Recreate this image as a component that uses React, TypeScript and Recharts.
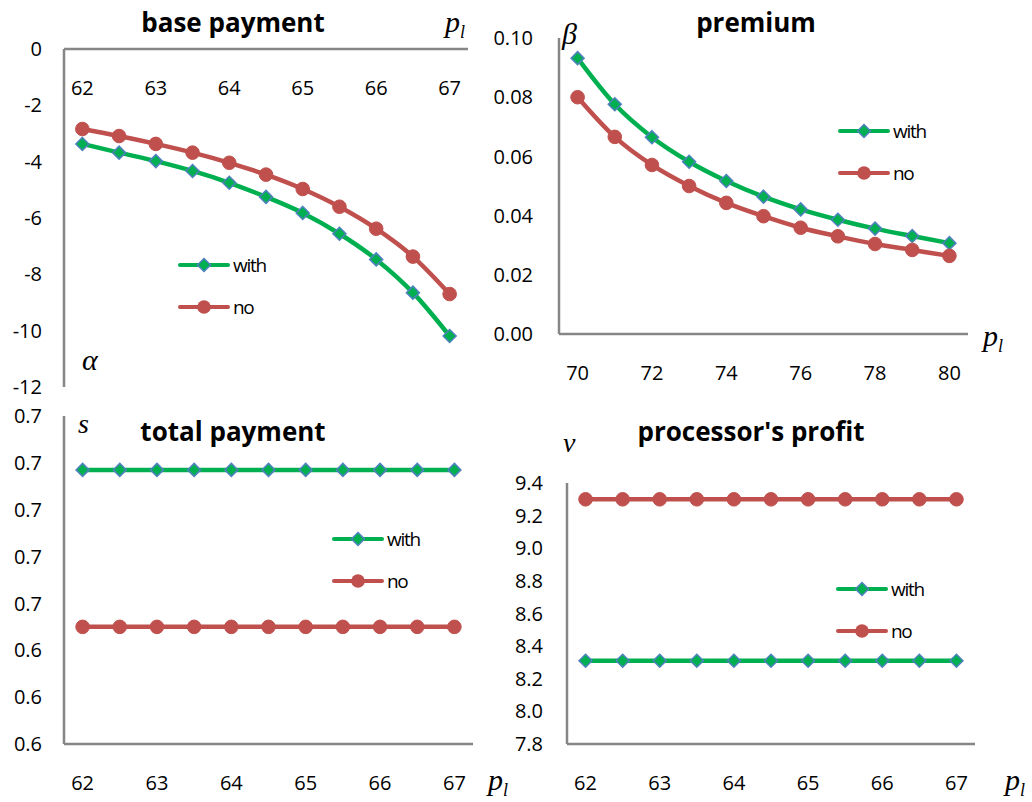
import React from 'react';
import { LineChart, Line, XAxis, YAxis, Legend } from 'recharts';

// x values (p_l)
const plShort = [62, 62.5, 63, 63.5, 64, 64.5, 65, 65.5, 66, 66.5, 67];
const plPremium = [70, 71, 72, 73, 74, 75, 76, 77, 78, 79, 80];

// base payment (alpha)
const baseWith = [-3.37, -3.68, -3.98, -4.33, -4.75, -5.25, -5.82, -6.56, -7.47, -8.65, -10.19];
const baseNo = [-2.84, -3.09, -3.37, -3.68, -4.04, -4.46, -4.97, -5.6, -6.38, -7.37, -8.7];

// premium (beta)
const premWith = [0.0932, 0.0776, 0.0665, 0.0582, 0.0517, 0.0464, 0.0421, 0.0386, 0.0356, 0.0331, 0.0307];
const premNo = [0.08, 0.0666, 0.0571, 0.05, 0.0443, 0.0398, 0.0359, 0.033, 0.0304, 0.0284, 0.0264];

// total payment (s)
const totalWith = [0.6557, 0.6557, 0.6557, 0.6557, 0.6557, 0.6557, 0.6557, 0.6557, 0.6557, 0.6557, 0.6557];
const totalNo = [0.649, 0.649, 0.649, 0.649, 0.649, 0.649, 0.649, 0.649, 0.649, 0.649, 0.649];

// processor's profit (v)
const profitWith = [8.31, 8.31, 8.31, 8.31, 8.31, 8.31, 8.31, 8.31, 8.31, 8.31, 8.31];
const profitNo = [9.3, 9.3, 9.3, 9.3, 9.3, 9.3, 9.3, 9.3, 9.3, 9.3, 9.3];

const baseTicks = [-12, -10, -8, -6, -4, -2, 0];
const premTicks = [0, 0.02, 0.04, 0.06, 0.08, 0.1];
const totalTicks = [0.644, 0.646, 0.648, 0.65, 0.652, 0.654, 0.656, 0.658];
const profitTicks = [7.8, 8.0, 8.2, 8.4, 8.6, 8.8, 9.0, 9.2, 9.4];

const seriesOrder = ['with', 'no'];

const GREEN = '#00B050';
const RED = '#C0504D';
const BLUE = '#4F81BD';
const AXIS = '#868686';
const FONT = '"Open Sans", sans-serif';
const SERIF = '"Liberation Serif", "DejaVu Serif", serif';

const build = (xs: number[], w: number[], n: number[]) =>
  xs.map((pl, i) => ({ pl, with: w[i], no: n[i] }));

const tickStyle = { fill: '#000', fontSize: 20, fontFamily: FONT };
const axisLine = { stroke: AXIS, strokeWidth: 2.5 };

const Diamond = (props: any) => {
  const { cx, cy, index } = props;
  if (cx == null || cy == null) return <g key={index} />;
  const r = 6.5;
  return (
    <path
      key={index}
      d={`M${cx},${cy - r}L${cx + r},${cy}L${cx},${cy + r}L${cx - r},${cy}Z`}
      fill={GREEN}
      stroke={BLUE}
      strokeWidth={1.5}
    />
  );
};

const Dot = (props: any) => {
  const { cx, cy, index } = props;
  if (cx == null || cy == null) return <g key={index} />;
  return <circle key={index} cx={cx} cy={cy} r={6.8} fill={RED} stroke={RED} />;
};

const LegendBox = ({ payload }: any) => {
  const items = [...(payload || [])].sort(
    (a: any, b: any) => seriesOrder.indexOf(a.dataKey) - seriesOrder.indexOf(b.dataKey)
  );
  return (
    <div style={{ fontFamily: FONT }}>
      {items.map((entry: any) => {
        const isWith = entry.dataKey === 'with';
        const color = isWith ? GREEN : RED;
        return (
          <div key={entry.dataKey} style={{ display: 'flex', alignItems: 'center', height: 42 }}>
            <svg width={52} height={20}>
              <line x1={2} y1={10} x2={50} y2={10} stroke={color} strokeWidth={4} strokeLinecap="round" />
              {isWith ? (
                <path d="M26,3.5L32.5,10L26,16.5L19.5,10Z" fill={GREEN} stroke={BLUE} strokeWidth={1.5} />
              ) : (
                <circle cx={26} cy={10} r={6.8} fill={RED} />
              )}
            </svg>
            <span style={{ marginLeft: 3, fontSize: 19, letterSpacing: -1.3, color: '#000' }}>{entry.value}</span>
          </div>
        );
      })}
    </div>
  );
};

function lines() {
  return [
    <Line key="w" type="monotone" dataKey="with" name="with" stroke={GREEN} strokeWidth={4.5}
      dot={Diamond} activeDot={false} isAnimationActive={false} />,
    <Line key="n" type="monotone" dataKey="no" name="no" stroke={RED} strokeWidth={4.5}
      dot={Dot} activeDot={false} isAnimationActive={false} />,
  ];
}

const legendProps = (left: number, top: number) => ({
  layout: 'vertical' as const,
  align: 'center' as const,
  verticalAlign: 'middle' as const,
  content: <LegendBox />,
  wrapperStyle: { left, top, width: 'auto' },
});

const Label = ({ x, y, children, size = 30 }: any) => (
  <text x={x} y={y} fontFamily={SERIF} fontStyle="italic" fontSize={size} fill="#000">
    {children}
  </text>
);

const PL = ({ x, y }: { x: number; y: number }) => (
  <text x={x} y={y} fontFamily={SERIF} fontStyle="italic" fontSize={30} fill="#000">
    p<tspan fontSize={18} dy={6}>l</tspan>
  </text>
);

const Title = ({ x, y, children }: any) => (
  <text x={x} y={y} textAnchor="middle" fontFamily={FONT} fontWeight="bold" fontSize={26} fill="#000">
    {children}
  </text>
);

export default function App() {
  const baseData = build(plShort, baseWith, baseNo);
  const premData = build(plPremium, premWith, premNo);
  const totalData = build(plShort, totalWith, totalNo);
  const profitData = build(plShort, profitWith, profitNo);

  return (
    <div style={{ position: 'absolute', left: 0, top: 0, width: 1032, height: 802, background: '#fff', overflow: 'hidden' }}>
      {/* base payment */}
      <div style={{ position: 'absolute', left: 0, top: 0 }}>
        <LineChart width={500} height={400} data={baseData} margin={{ top: 19, right: 32, bottom: 13, left: 4 }}>
          <XAxis dataKey="pl" scale="band" orientation="top" height={30} axisLine={axisLine} tickLine={false}
            tickSize={0} tickMargin={-46} interval={1} tick={tickStyle} />
          <YAxis type="number" domain={[-12, 0]} ticks={baseTicks} width={60} axisLine={axisLine}
            tickLine={false} tickSize={0} tickMargin={22} tick={tickStyle} />
          {lines()}
          <Legend {...legendProps(178, 244)} />
        </LineChart>
      </div>

      {/* premium */}
      <div style={{ position: 'absolute', left: 480, top: 0 }}>
        <LineChart width={552} height={400} data={premData} margin={{ top: 38, right: 64, bottom: 26, left: 4 }}>
          <XAxis dataKey="pl" scale="band" height={40} axisLine={axisLine} tickLine={false}
            tickSize={0} tickMargin={32} interval={1} tick={tickStyle} />
          <YAxis type="number" domain={[0, 0.1]} ticks={premTicks} width={75} axisLine={axisLine}
            tickLine={false} tickSize={0} tickMargin={26} tick={tickStyle}
            tickFormatter={(v: number) => v.toFixed(2)} />
          {lines()}
          <Legend {...legendProps(358, 110)} />
        </LineChart>
      </div>

      {/* total payment */}
      <div style={{ position: 'absolute', left: 0, top: 400 }}>
        <LineChart width={500} height={402} data={totalData} margin={{ top: 16, right: 27, bottom: 18, left: 4 }}>
          <XAxis dataKey="pl" scale="band" height={40} axisLine={axisLine} tickLine={false}
            tickSize={0} tickMargin={32} interval={1} tick={tickStyle} />
          <YAxis type="number" domain={[0.644, 0.658]} ticks={totalTicks} width={60} axisLine={axisLine}
            tickLine={false} tickSize={0} tickMargin={22} tick={tickStyle}
            tickFormatter={(v: number) => (Math.round(v * 10 + 1e-6) / 10).toFixed(1)} />
          {lines()}
          <Legend {...legendProps(332, 118)} />
        </LineChart>
      </div>

      {/* processor's profit */}
      <div style={{ position: 'absolute', left: 500, top: 400 }}>
        <LineChart width={532} height={402} data={profitData} margin={{ top: 83, right: 57, bottom: 18, left: 7 }}>
          <XAxis dataKey="pl" scale="band" height={40} axisLine={axisLine} tickLine={false}
            tickSize={0} tickMargin={32} interval={1} tick={tickStyle} />
          <YAxis type="number" domain={[7.8, 9.4]} ticks={profitTicks} width={60} axisLine={axisLine}
            tickLine={false} tickSize={0} tickMargin={24} tick={tickStyle}
            tickFormatter={(v: number) => v.toFixed(1)} />
          {lines()}
          <Legend {...legendProps(336, 168)} />
        </LineChart>
      </div>

      {/* titles and axis symbols */}
      <svg width={1032} height={802} style={{ position: 'absolute', left: 0, top: 0, pointerEvents: 'none' }}>
        <Title x={233} y={32}>base payment</Title>
        <Title x={756} y={32}>premium</Title>
        <Title x={233} y={441}>total payment</Title>
        <Title x={751} y={441}>processor's profit</Title>
        <PL x={445} y={32} />
        <PL x={983} y={346} />
        <PL x={488} y={790} />
        <PL x={1005} y={790} />
        <Label x={82} y={370}>α</Label>
        <Label x={562} y={44}>β</Label>
        <Label x={78} y={433} size={28}>s</Label>
        <Label x={563} y={452} size={28}>v</Label>
      </svg>
    </div>
  );
}
